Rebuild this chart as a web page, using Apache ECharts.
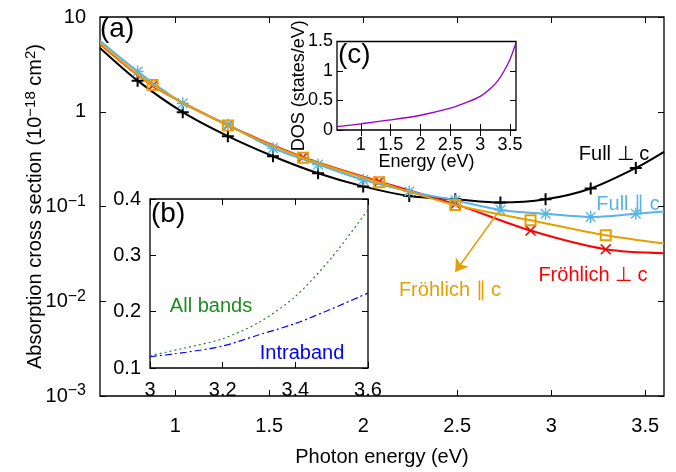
<!DOCTYPE html>
<html>
<head>
<meta charset="utf-8">
<script src="https://cdn.jsdelivr.net/npm/echarts@6/dist/echarts.min.js"></script>
<style>
  html, body { margin: 0; padding: 0; background: #fff; }
  #chart { width: 676px; height: 472px; }
</style>
</head>
<body>
<div id="chart"></div>
<script>
// main panel (a): absorption cross section, markers at interior points
var fullX = [0.6, 0.80, 1.04, 1.28, 1.52, 1.76, 2.0, 2.245, 2.49, 2.73, 2.97, 3.21, 3.45, 3.6];
var fullPerpY = [4.71, 2.13, 0.99, 0.552, 0.339, 0.224, 0.163, 0.129, 0.119, 0.110, 0.119, 0.155, 0.255, 0.378];
var fullParY = [5.6, 2.66, 1.23, 0.73, 0.413, 0.277, 0.191, 0.144, 0.116, 0.092, 0.0838, 0.0776, 0.0838, 0.0885];
var frohX = [0.6, 0.88, 1.28, 1.68, 2.085, 2.49, 2.89, 3.29, 3.6];
var frohParY = [5.3, 1.91, 0.714, 0.327, 0.180, 0.1035, 0.0716, 0.0496, 0.0406];
var frohPerpY = [5.2, 1.89, 0.722, 0.332, 0.184, 0.106, 0.0557, 0.0353, 0.0321];
var mainXTicks = [1, 1.5, 2, 2.5, 3, 3.5];
var mainYTicks = [0.001, 0.01, 0.1, 1, 10];

// inset (b)
var bX = [3.0, 3.1, 3.2, 3.3, 3.4, 3.5, 3.6];
var allBandsY = [0.122, 0.136, 0.152, 0.181, 0.227, 0.296, 0.381];
var intrabandY = [0.120, 0.128, 0.139, 0.159, 0.179, 0.205, 0.233];

// inset (c)
var dosX = [0.6, 1.0, 1.5, 2.0, 2.5, 2.75, 3.0, 3.2, 3.3, 3.4, 3.5, 3.6];
var dosY = [0.057, 0.105, 0.17, 0.25, 0.37, 0.46, 0.57, 0.73, 0.84, 1.0, 1.2, 1.48];
var cXTicks = [1, 1.5, 2, 2.5, 3, 3.5];

var FONT = "'Liberation Sans', Arial, sans-serif";

var SYM_PLUS = 'path://M5,0H7V5H12V7H7V12H5V7H0V5H5Z';
var SYM_CROSS = 'path://M0,1L1,0L5,4L9,0L10,1L6,5L10,9L9,10L5,6L1,10L0,9L4,5Z';
var SYM_STAR = 'path://M4.4,0H5.6V4.4H10V5.6H5.6V10H4.4V5.6H0V4.4H4.4Z M0.6,1.4L1.4,0.6L5,4.2L8.6,0.6L9.4,1.4L5.8,5L9.4,8.6L8.6,9.4L5,5.8L1.4,9.4L0.6,8.6L4.2,5Z';
var SYM_BOX = 'path://M0,0H12V12H0Z M2,2V10H10V2Z M5.2,5.2H6.8V6.8H5.2Z';

function pts(xs, ys) {
  return xs.map(function (x, i) {
    var item = { value: [x, ys[i]] };
    if (i === 0 || i === xs.length - 1) item.symbol = 'none';
    return item;
  });
}
function line(xs, ys) {
  return xs.map(function (x, i) { return [x, ys[i]]; });
}

function supLabel(v) {
  if (v === 10) return '{b|10}';
  if (v === 1) return '{b|1}';
  var e = Math.round(Math.log(v) / Math.LN10);
  return '{b|10}{s|\u2212' + (-e) + '}';
}

var tick = { show: true, inside: true, length: 6, lineStyle: { color: '#000', width: 1 } };
var lbl = { color: '#000', fontSize: 20, fontFamily: FONT };

function mirrorX(grid, min, max, ticks, interval) {
  var ax = {
    gridIndex: grid, type: 'value', position: 'top', min: min, max: max,
    axisLine: { show: false }, splitLine: { show: false },
    axisLabel: { show: false }, axisTick: tick
  };
  if (ticks) { ax.axisTick = Object.assign({ customValues: ticks }, tick); }
  else { ax.interval = interval; }
  return ax;
}
function mirrorY(grid, type, min, max, ticks, interval) {
  var ax = {
    gridIndex: grid, type: type, position: 'right', min: min, max: max,
    axisLine: { show: false }, splitLine: { show: false },
    axisLabel: { show: false }, axisTick: tick
  };
  if (ticks) { ax.axisTick = Object.assign({ customValues: ticks }, tick); }
  else { ax.interval = interval; }
  return ax;
}

var chart = echarts.init(document.getElementById('chart'), null, { renderer: 'canvas' });

var option = {
  backgroundColor: '#fff',
  animation: false,
  textStyle: { fontFamily: FONT },
  grid: [
    { left: 100, top: 17, width: 564, height: 391, show: true, borderColor: '#000', borderWidth: 1.3, backgroundColor: 'transparent' },
    { left: 150, top: 199, width: 218, height: 169, show: true, borderColor: '#000', borderWidth: 1.3, backgroundColor: '#fff' },
    { left: 337, top: 41.5, width: 179, height: 88.5, show: true, borderColor: '#000', borderWidth: 1.3, backgroundColor: '#fff' }
  ],
  xAxis: [
    {
      gridIndex: 0, type: 'value', min: 0.6, max: 3.6,
      axisLine: { show: false }, splitLine: { show: false },
      axisTick: Object.assign({ customValues: mainXTicks }, tick),
      axisLabel: Object.assign({ customValues: mainXTicks, margin: 20 }, lbl),
      name: 'Photon energy (eV)', nameLocation: 'middle', nameGap: 51, nameMoveOverlap: false,
      nameTextStyle: { color: '#000', fontSize: 20, fontFamily: FONT }
    },
    mirrorX(0, 0.6, 3.6, mainXTicks),
    {
      gridIndex: 1, type: 'value', min: 3, max: 3.6, interval: 0.2,
      axisLine: { show: false }, splitLine: { show: false },
      axisTick: tick,
      axisLabel: Object.assign({ margin: 12, formatter: function (v) { return +v.toFixed(1) + ''; } }, lbl)
    },
    mirrorX(1, 3, 3.6, null, 0.2),
    {
      gridIndex: 2, type: 'value', min: 0.6, max: 3.6,
      axisLine: { show: false }, splitLine: { show: false },
      axisTick: Object.assign({ customValues: cXTicks }, tick),
      axisLabel: Object.assign({ customValues: cXTicks, margin: 6 }, lbl, { fontSize: 18 }),
      name: 'Energy (eV)', nameLocation: 'middle', nameGap: 23, nameMoveOverlap: false,
      nameTextStyle: { color: '#000', fontSize: 18, fontFamily: FONT }
    },
    mirrorX(2, 0.6, 3.6, cXTicks)
  ],
  yAxis: [
    {
      gridIndex: 0, type: 'log', logBase: 10, min: 0.001, max: 10,
      axisLine: { show: false }, splitLine: { show: false }, minorTick: { show: false },
      axisTick: Object.assign({ customValues: mainYTicks }, tick),
      axisLabel: Object.assign({
        customValues: mainYTicks, margin: 14,
        formatter: supLabel,
        rich: {
          b: { fontSize: 20, fontFamily: FONT, color: '#000' },
          s: { fontSize: 16, fontFamily: FONT, color: '#000', padding: [0, 0, 10, 0] }
        }
      }, lbl),
      name: '{b|Absorption cross section (10}{s|\u221218}{b| cm}{s|2}{b|)}',
      nameLocation: 'middle', nameGap: 52, nameRotate: 90, nameMoveOverlap: false,
      nameTextStyle: {
        color: '#000', fontSize: 20, fontFamily: FONT,
        rich: {
          b: { fontSize: 20, fontFamily: FONT, color: '#000' },
          s: { fontSize: 15, fontFamily: FONT, color: '#000', padding: [0, 0, 10, 0] }
        }
      }
    },
    mirrorY(0, 'log', 0.001, 10, mainYTicks),
    {
      gridIndex: 1, type: 'value', min: 0.1, max: 0.4, interval: 0.1,
      axisLine: { show: false }, splitLine: { show: false },
      axisTick: tick,
      axisLabel: Object.assign({ margin: 9, formatter: function (v) { return +v.toFixed(1) + ''; } }, lbl)
    },
    mirrorY(1, 'value', 0.1, 0.4, null, 0.1),
    {
      gridIndex: 2, type: 'value', min: 0, max: 1.5, interval: 0.5,
      axisLine: { show: false }, splitLine: { show: false },
      axisTick: tick,
      axisLabel: Object.assign({ margin: 4 }, lbl, { fontSize: 18 }),
      name: 'DOS (states/eV)', nameLocation: 'middle', nameGap: 29, nameRotate: 90, nameMoveOverlap: false,
      nameTextStyle: { color: '#000', fontSize: 18, fontFamily: FONT }
    },
    mirrorY(2, 'value', 0, 1.5, null, 0.5)
  ],
  series: [
    {
      name: 'Full \u22a5 c', type: 'line', xAxisIndex: 0, yAxisIndex: 0,
      data: pts(fullX, fullPerpY), smooth: 0.3,
      symbol: SYM_PLUS, symbolSize: 12, showAllSymbol: true,
      lineStyle: { color: '#000', width: 2 }, itemStyle: { color: '#000' }, z: 2
    },
    {
      name: 'Fr\u00f6hlich \u22a5 c', type: 'line', xAxisIndex: 0, yAxisIndex: 0,
      data: pts(frohX, frohPerpY), smooth: 0.3,
      symbol: SYM_CROSS, symbolSize: 11, showAllSymbol: true,
      lineStyle: { color: '#ff0000', width: 2 }, itemStyle: { color: '#ff0000' }, z: 3
    },
    {
      name: 'Full \u2225 c', type: 'line', xAxisIndex: 0, yAxisIndex: 0,
      data: pts(fullX, fullParY), smooth: 0.3,
      symbol: SYM_STAR, symbolSize: 12, showAllSymbol: true,
      lineStyle: { color: '#56b4e9', width: 2 }, itemStyle: { color: '#56b4e9' }, z: 4
    },
    {
      name: 'Fr\u00f6hlich \u2225 c', type: 'line', xAxisIndex: 0, yAxisIndex: 0,
      data: pts(frohX, frohParY), smooth: 0.3,
      symbol: SYM_BOX, symbolSize: 12, showAllSymbol: true,
      lineStyle: { color: '#e69f00', width: 2 }, itemStyle: { color: '#e69f00' }, z: 5,
      markLine: {
        silent: true, symbol: ['none', 'arrow'], symbolSize: 12,
        lineStyle: { color: '#e69f00', width: 1.5, type: 'solid' },
        label: { show: false },
        data: [[{ coord: [2.72, 0.088] }, { coord: [2.49, 0.0205] }]]
      }
    },
    {
      name: 'All bands', type: 'line', xAxisIndex: 2, yAxisIndex: 2,
      data: line(bX, allBandsY), smooth: 0.3, symbol: 'none',
      lineStyle: { color: '#1f8a1f', width: 1.2, type: [2, 3] }, z: 6
    },
    {
      name: 'Intraband', type: 'line', xAxisIndex: 2, yAxisIndex: 2,
      data: line(bX, intrabandY), smooth: 0.3, symbol: 'none',
      lineStyle: { color: '#0000ff', width: 1.2, type: [7, 3, 2, 3] }, z: 6
    },
    {
      name: 'DOS', type: 'line', xAxisIndex: 4, yAxisIndex: 4,
      data: line(dosX, dosY), smooth: 0.3, symbol: 'none',
      lineStyle: { color: '#9400d3', width: 1.3 }, z: 6
    }
  ],
  graphic: [
    { type: 'text', x: 100, y: 15, style: { text: '(a)', font: '28px ' + FONT, fill: '#000' } },
    { type: 'text', x: 151, y: 200, style: { text: '(b)', font: '28px ' + FONT, fill: '#000' } },
    { type: 'text', x: 338, y: 41, style: { text: '(c)', font: '28px ' + FONT, fill: '#000' } },
    { type: 'text', x: 211, y: 306, style: { text: 'All bands', font: '20px ' + FONT, fill: '#1f8a1f', align: 'center', verticalAlign: 'middle' } },
    { type: 'text', x: 302, y: 353, style: { text: 'Intraband', font: '20px ' + FONT, fill: '#0000ff', align: 'center', verticalAlign: 'middle' } },
    { type: 'text', x: 614, y: 154, style: { text: 'Full \u22a5 c', font: '20px ' + FONT, fill: '#000', align: 'center', verticalAlign: 'middle' } },
    { type: 'text', x: 628, y: 204, style: { text: 'Full \u2225 c', font: '20px ' + FONT, fill: '#56b4e9', align: 'center', verticalAlign: 'middle' } },
    { type: 'text', x: 593, y: 275, style: { text: 'Fr\u00f6hlich \u22a5 c', font: '20px ' + FONT, fill: '#ff0000', align: 'center', verticalAlign: 'middle' } },
    { type: 'text', x: 450, y: 290, style: { text: 'Fr\u00f6hlich \u2225 c', font: '20px ' + FONT, fill: '#e69f00', align: 'center', verticalAlign: 'middle' } }
  ]
};

chart.setOption(option);
</script>
</body>
</html>
